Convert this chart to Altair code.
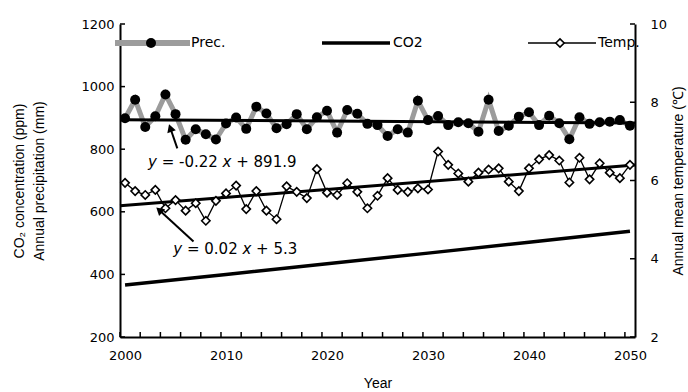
import altair as alt
import pandas as pd

# ---------------- data ----------------
years = list(range(2000, 2051))
prec = [899, 958, 871, 905, 975, 912, 830, 864, 848, 831, 882, 901, 865, 936, 914, 867, 880,
        912, 864, 902, 923, 853, 925, 913, 881, 877, 842, 864, 853, 955, 893, 906, 877, 886,
        883, 856, 958,
        858, 875, 904, 918, 877, 907, 883, 832, 902, 881, 886, 888, 893, 875]
temp = [5.94, 5.73, 5.63, 5.76, 5.29, 5.50, 5.23, 5.42, 4.97, 5.48, 5.67, 5.87, 5.27, 5.73,
        5.23, 5.01, 5.85, 5.71, 5.55, 6.29, 5.69, 5.63, 5.93, 5.71, 5.29, 5.61, 6.06, 5.76,
        5.71, 5.80, 5.77, 6.74, 6.40, 6.18, 5.97, 6.20, 6.28, 6.31, 5.97, 5.73, 6.31, 6.54,
        6.65, 6.51, 5.95, 6.58, 6.03, 6.44, 6.20, 6.06, 6.40]
co2_years = [2000, 2010, 2020, 2030, 2040, 2050]
co2 = [366, 400, 434, 468, 503, 538]

x_label_years = [2000, 2010, 2020, 2030, 2040, 2050]
x_tick_pos = [1999.5 + 2 * k for k in range(26)]
left_ticks = [200, 400, 600, 800, 1000, 1200]
right_ticks = [2, 4, 6, 8, 10]
legend_labels = ["Prec.", "CO2", "Temp."]
eq1_parts = ["y", "= -0.22", "x", "+ 891.9"]
eq2_parts = ["y", "= 0.02", "x", "+ 5.3"]
left_title = ["CO\u2082 concentration (ppm)", "Annual precipitation (mm)"]
right_title = "Annual mean temperature (\u2103)"
x_title = "Year"

df_p = pd.DataFrame({"year": years, "prec": prec})
df_t = pd.DataFrame({"year": years, "temp": temp})
df_c = pd.DataFrame({"year": co2_years, "co2": co2})

NUM_FONT = "DejaVu Sans"
TXT_FONT = "Liberation Sans"
W, H = 515, 313

x_scale = alt.Scale(domain=[1999.5, 2050.5], nice=False, zero=False)
yl_scale = alt.Scale(domain=[200, 1200], nice=False, zero=False)
yr_scale = alt.Scale(domain=[2, 10], nice=False, zero=False)

x_axis = alt.Axis(values=x_label_years, format="d", ticks=False, grid=False,
                  labelFont=NUM_FONT, labelFontSize=13, labelColor="black", labelPadding=12,
                  title=x_title, titleFont=TXT_FONT, titleFontSize=14, titleFontWeight="normal",
                  titleColor="black", titlePadding=14, domainColor="black", domainWidth=2)
yl_axis = alt.Axis(values=left_ticks, format="d", ticks=False, grid=False,
                   labelFont=NUM_FONT, labelFontSize=13, labelColor="black", labelPadding=6,
                   title=left_title, titleFont=TXT_FONT, titleFontSize=14, titleFontWeight="normal",
                   titleColor="black", titlePadding=34, titleLineHeight=20,
                   domainColor="black", domainWidth=2)
yr_axis = alt.Axis(orient="right", values=right_ticks, format="d", ticks=False, grid=False,
                   labelFont=NUM_FONT, labelFontSize=13, labelColor="black", labelPadding=15,
                   title=right_title, titleFont=TXT_FONT, titleFontSize=14, titleFontWeight="normal",
                   titleColor="black", titleAngle=270, titleX=43, titleY=H / 2,
                   titleBaseline="middle", titleAlign="center",
                   domainColor="black", domainWidth=2)

X = alt.X("year:Q", scale=x_scale, axis=x_axis)

# ---------------- left (precipitation / CO2) ----------------
prec_line = alt.Chart(df_p).mark_line(color="#9c9c9c", strokeWidth=5).encode(
    x=X, y=alt.Y("prec:Q", scale=yl_scale, axis=yl_axis))
prec_trend = alt.Chart(df_p).transform_regression(
    "year", "prec", extent=[1999.5, 2050.5]).mark_line(color="black", strokeWidth=3).encode(
    x=X, y=alt.Y("prec:Q", scale=yl_scale, axis=yl_axis))
prec_pts = alt.Chart(df_p).mark_point(filled=True, shape="circle", size=100, color="black",
                                      opacity=1).encode(
    x=X, y=alt.Y("prec:Q", scale=yl_scale, axis=yl_axis))
co2_line = alt.Chart(df_c).mark_line(color="black", strokeWidth=3.5).encode(
    x=X, y=alt.Y("co2:Q", scale=yl_scale, axis=yl_axis))
yl_tick = alt.Chart(pd.DataFrame({"v": left_ticks})).mark_rule(color="black", strokeWidth=1.5).encode(
    y=alt.Y("v:Q", scale=yl_scale, axis=yl_axis), x=alt.value(0), x2=alt.value(5))
x_tick = alt.Chart(pd.DataFrame({"year": x_tick_pos})).mark_rule(color="black", strokeWidth=1.5).encode(
    x=X, y=alt.value(H), y2=alt.value(H - 5))

left = alt.layer(prec_line, prec_trend, prec_pts, co2_line, yl_tick, x_tick)

# ---------------- right (temperature) ----------------
temp_line = alt.Chart(df_t).mark_line(color="black", strokeWidth=1.3).encode(
    x=X, y=alt.Y("temp:Q", scale=yr_scale, axis=yr_axis))
temp_trend = alt.Chart(df_t).transform_regression(
    "year", "temp", extent=[1999.5, 2050.5]).mark_line(color="black", strokeWidth=3).encode(
    x=X, y=alt.Y("temp:Q", scale=yr_scale, axis=yr_axis))
temp_pts = alt.Chart(df_t).mark_point(shape="diamond", filled=True, fill="white", stroke="black",
                                      strokeWidth=1.6, size=70, opacity=1, fillOpacity=1).encode(
    x=X, y=alt.Y("temp:Q", scale=yr_scale, axis=yr_axis))
yr_tick = alt.Chart(pd.DataFrame({"v": right_ticks})).mark_rule(color="black", strokeWidth=1.5).encode(
    y=alt.Y("v:Q", scale=yr_scale, axis=yr_axis), x=alt.value(W - 5), x2=alt.value(W))

one = pd.DataFrame({"k": [0]})


def arrow(tail, head, angle):
    shaft = alt.Chart(one).mark_rule(color="black", strokeWidth=2).encode(
        x=alt.value(tail[0]), y=alt.value(tail[1]), x2=alt.value(head[0]), y2=alt.value(head[1]))
    tip = alt.Chart(one).mark_point(shape="triangle-up", filled=True, color="black", size=81,
                                    opacity=1, angle=angle).encode(
        x=alt.value(head[0]), y=alt.value(head[1]))
    return [shaft, tip]


def equation(parts, x0, yb):
    w_mid = {"= -0.22": 60.91, "= 0.02": 55.5}[parts[1]]
    offs = [0, 13.65, 8.88 + 4.77 + w_mid, 0]
    offs[3] = offs[2] + 8.88 + 4.77
    layers = []
    for i, p in enumerate(parts):
        layers.append(alt.Chart(pd.DataFrame({"t": [p]})).mark_text(
            align="left", baseline="alphabetic", font=NUM_FONT, fontSize=15, color="black",
            fontStyle="italic" if p in ("x", "y") else "normal").encode(
            x=alt.value(x0 + offs[i]), y=alt.value(yb), text="t:N"))
    return layers


eqs = equation(eq1_parts, 28, 143) + equation(eq2_parts, 53.3, 230)
arrows = arrow((57.3, 124.3), (50.3, 104.0), 341) + arrow((73.5, 217.5), (39.2, 186.1), 312)

# legend
LY = 19
leg = [
    alt.Chart(one).mark_rule(color="#9c9c9c", strokeWidth=6).encode(
        x=alt.value(-5), x2=alt.value(70), y=alt.value(LY)),
    alt.Chart(one).mark_point(filled=True, shape="circle", size=100, color="black", opacity=1).encode(
        x=alt.value(31), y=alt.value(LY)),
    alt.Chart(one).mark_rule(color="black", strokeWidth=3.5).encode(
        x=alt.value(202), x2=alt.value(270), y=alt.value(LY)),
    alt.Chart(one).mark_rule(color="black", strokeWidth=1.3).encode(
        x=alt.value(408), x2=alt.value(476), y=alt.value(LY)),
    alt.Chart(one).mark_point(shape="diamond", filled=True, fill="white", stroke="black",
                              strokeWidth=1.6, size=70, opacity=1, fillOpacity=1).encode(
        x=alt.value(440), y=alt.value(LY)),
]
for lab, lx in zip(legend_labels, [71, 273, 478]):
    leg.append(alt.Chart(pd.DataFrame({"t": [lab]})).mark_text(
        align="left", baseline="middle", font=NUM_FONT, fontSize=14, color="black").encode(
        x=alt.value(lx), y=alt.value(LY), text="t:N"))

right = alt.layer(temp_line, temp_trend, temp_pts, yr_tick, *arrows, *eqs, *leg)

chart = alt.layer(left, right).resolve_scale(y="independent").properties(
    width=W, height=H,
    autosize=alt.AutoSizeParams(type="none"),
    padding={"left": 120, "top": 24, "right": 53, "bottom": 55},
    background="white",
).configure_view(stroke=None)

chart.save("out.html", embed_options={"renderer": "svg", "actions": False})
